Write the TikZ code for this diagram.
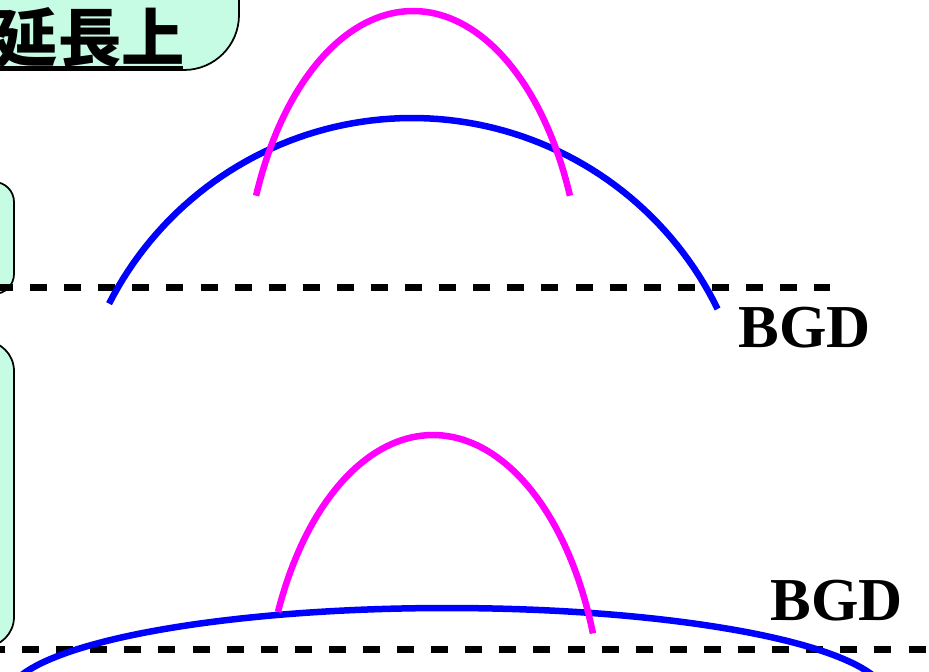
\documentclass[tikz,border=0pt]{standalone}
\usepackage{fontspec}
\setmainfont{Liberation Serif}
\newfontfamily\jpfont{Noto Sans CJK JP}
\usepackage{tikz}
\usetikzlibrary{calc}
\definecolor{boxmint}{HTML}{C6FCE4}
\definecolor{peakblue}{HTML}{0000FF}
\definecolor{peakpink}{HTML}{FF00FF}

\begin{document}
\begin{tikzpicture}[
    x=0.02cm, y=-0.02cm,
    notebox/.style={draw, line width=0.035cm, fill=boxmint},
    bgline/.style={line width=0.14cm, dash pattern=on 0.34cm off 0.342cm},
    bluepeak/.style={peakblue, line width=0.13cm},
    pinkpeak/.style={peakpink, line width=0.13cm},
    bgdtext/.style={font=\bfseries\fontsize{34.7}{36}\selectfont, inner sep=0pt, anchor=base west},
]
\useasboundingbox (0,0) rectangle (929,672);
\clip (0,0) rectangle (929,672);

% boxes cut off at the left edge
\draw[notebox, rounded corners=1.1cm] (-60,-60) rectangle (239,70);
\draw[notebox, rounded corners=0.4cm] (-60,182) rectangle (14,294);
\draw[notebox, rounded corners=0.6cm] (-60,341) rectangle (14,647);

\node[font=\jpfont\bfseries\fontsize{36}{38}\selectfont, inner sep=0pt, anchor=base east] (ext) at (185,62) {延長上};
\draw[line width=0.07cm] ($(ext.base west)+(-8,6)$) -- ($(ext.base east)+(-2,6)$);

% background levels
\coordinate (bgupL) at (-4,287);
\coordinate (bgupR) at (830,287);
\coordinate (bgdownL) at (-12,649);
\coordinate (bgdownR) at (940,649);
\draw[bgline] (bgupL) -- (bgupR);
\draw[bgline] (bgdownL) -- (bgdownR);

% wide peaks
\draw[bluepeak] plot[domain=26:153, samples=80] ({412+340*cos(\x)}, {458-340*sin(\x)});
\draw[bluepeak] plot[domain=0:180, samples=120] ({447+440*cos(\x)}, {698-90*sin(\x)});

% narrow peaks
\draw[pinkpeak] plot[domain=22.6:157.4, samples=80] ({413+170*cos(\x)}, {311-300*sin(\x)});
\draw[pinkpeak] plot[domain=19.8:155.8, samples=80] ({433+170*cos(\x)}, {735-300*sin(\x)});

\node[bgdtext] (bgdup) at (738,347) {BGD};
\node[bgdtext] (bgddown) at (770,620) {BGD};
\end{tikzpicture}
\end{document}
